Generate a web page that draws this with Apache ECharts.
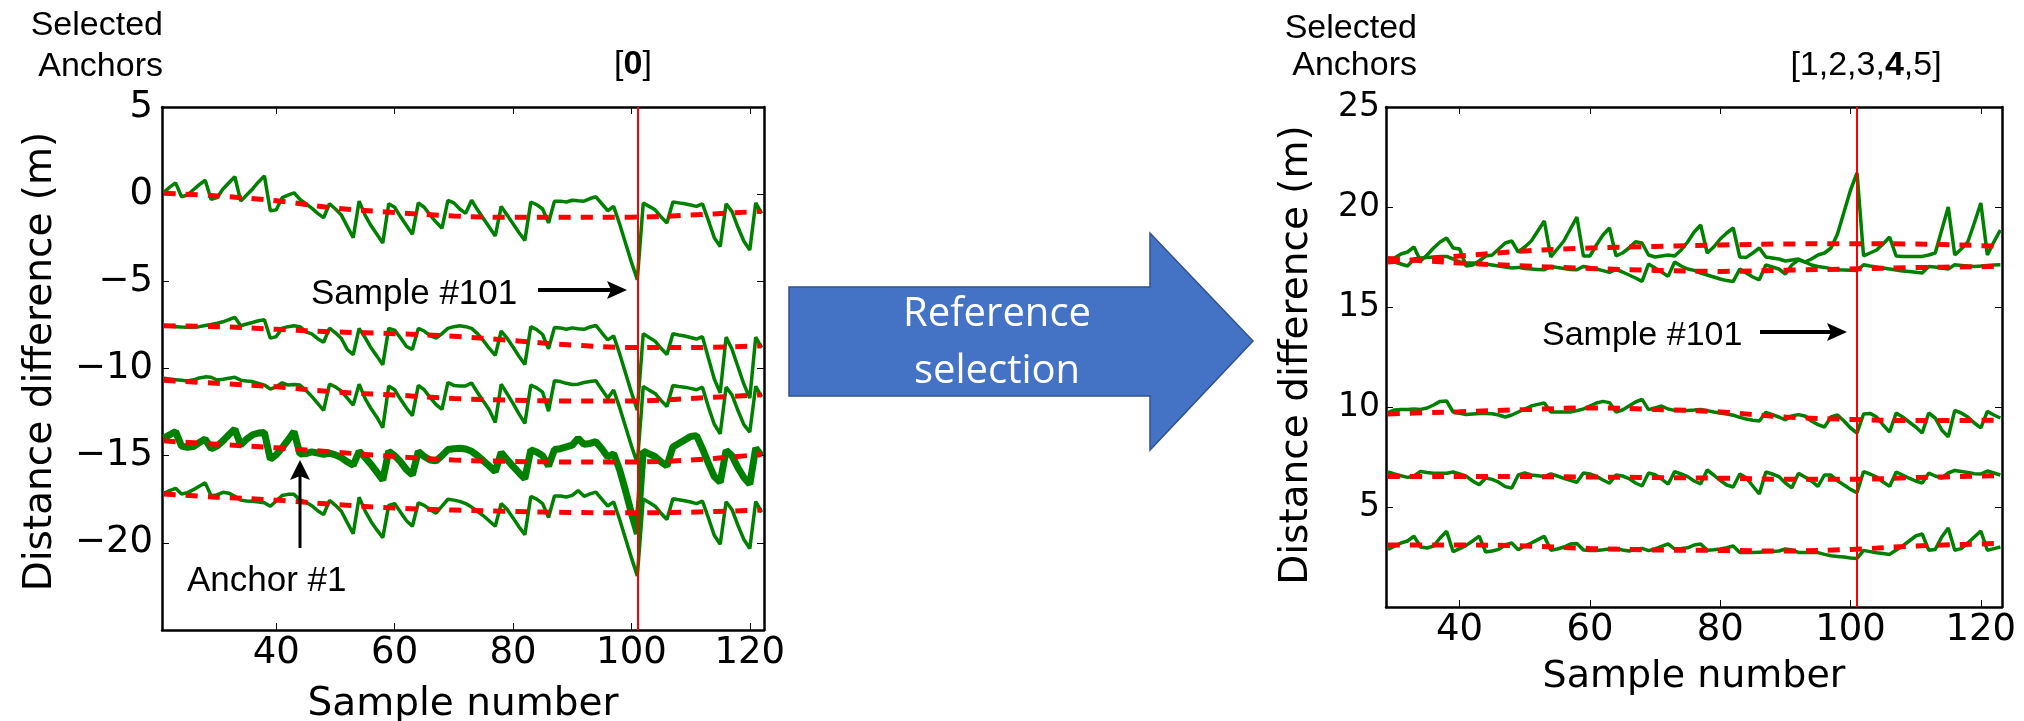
<!DOCTYPE html>
<html>
<head>
<meta charset="utf-8">
<script src="https://cdn.jsdelivr.net/npm/echarts@6/dist/echarts.min.js"></script>
<style>
html,body{margin:0;padding:0;background:#ffffff;}
#c{width:2024px;height:721px;}
</style>
</head>
<body>
<div id="c"></div>
<script>
// ---------------- data: left panel (selected anchors [0]) ----------------
const leftStart = 21; // first sample number of the left panel
const leftL1 = [0.1,0.4,0.65,-0.15,-0.05,0.25,0.55,0.8,-0.3,-0.2,
  0.3,0.65,1.0,-0.4,-0.05,0.3,0.7,1.05,-0.95,-0.9,
  -0.2,-0.05,0.08,-0.3,-0.55,-0.8,-1.1,-1.35,-0.55,-0.85,
  -1.2,-1.85,-2.5,-0.4,-1.2,-1.8,-2.3,-2.8,-0.55,-0.75,
  -1.3,-1.8,-2.3,-0.5,-0.75,-1.2,-1.6,-1.95,-0.35,-0.5,
  -0.85,-1.1,-0.35,-0.9,-1.4,-1.9,-2.4,-0.7,-1.2,-1.7,
  -2.2,-2.65,-0.45,-0.6,-0.85,-1.65,-0.4,-0.4,-0.45,-0.35,
  -0.38,-0.4,-0.25,-0.15,-0.55,-0.95,-0.7,-1.7,-2.8,-3.9,
  -4.9,-0.5,-0.7,-0.9,-1.3,-1.65,-0.45,-0.5,-0.55,-0.62,
  -0.7,-0.55,-1.5,-2.5,-3.0,-0.55,-1.0,-1.9,-2.7,-3.2,-0.5,-1.1];
const leftL2 = [-7.55,-7.58,-7.6,-7.62,-7.63,-7.62,-7.6,-7.53,-7.47,-7.4,
  -7.32,-7.2,-7.06,-7.55,-7.45,-7.36,-7.26,-7.2,-8.26,-8.17,
  -7.69,-7.6,-7.55,-7.6,-7.9,-8.01,-8.29,-8.5,-7.68,-7.95,
  -8.28,-8.92,-9.2,-7.7,-8.22,-8.81,-9.29,-9.78,-7.7,-7.8,
  -8.25,-8.74,-8.9,-7.7,-7.85,-8.12,-8.25,-8.0,-7.7,-7.6,
  -7.55,-7.6,-7.7,-8.0,-8.4,-8.85,-9.25,-7.85,-8.26,-8.77,
  -9.3,-9.77,-7.6,-7.77,-8.05,-8.87,-7.65,-7.67,-7.75,-7.67,
  -7.72,-7.75,-7.62,-7.53,-7.95,-8.36,-8.13,-9.14,-10.26,-11.37,
  -12.39,-8.0,-8.22,-8.43,-8.84,-9.2,-8.01,-8.08,-8.14,-8.22,
  -8.31,-8.17,-9.4,-10.6,-11.4,-8.2,-8.9,-9.9,-10.9,-11.7,-8.2,-8.8];
const leftL3 = [-10.56,-10.6,-10.64,-10.68,-10.72,-10.65,-10.54,-10.48,-10.5,-10.66,
  -10.62,-10.56,-10.5,-10.67,-10.72,-10.75,-10.85,-10.95,-11.18,-11.05,
  -10.82,-10.95,-10.92,-10.95,-11.25,-11.6,-12.0,-12.4,-10.9,-11.05,
  -11.3,-11.7,-12.1,-10.9,-11.71,-12.3,-12.79,-13.4,-11.0,-11.22,
  -11.77,-12.27,-12.7,-10.97,-11.22,-11.67,-12.07,-12.35,-10.8,-10.97,
  -11.0,-11.0,-10.83,-11.38,-11.88,-12.38,-13.1,-10.9,-11.45,-12.0,
  -12.6,-13.15,-10.95,-11.11,-11.36,-12.45,-10.7,-10.75,-10.85,-10.92,
  -10.9,-10.8,-10.75,-10.7,-11.2,-11.7,-11.23,-12.23,-13.33,-14.43,
  -15.44,-11.03,-11.24,-11.43,-11.83,-12.18,-10.97,-11.03,-11.07,-11.14,
  -11.22,-11.07,-12.2,-13.2,-13.74,-11.07,-11.52,-12.41,-13.22,-13.65,-11.02,-11.62];
const leftL4 = [-14.0,-13.8,-13.62,-14.45,-14.52,-14.48,-14.25,-14.05,-14.6,-14.45,
  -14.15,-13.8,-13.48,-14.39,-14.05,-13.8,-13.7,-13.67,-15.2,-14.95,
  -14.55,-14.1,-13.62,-14.9,-14.88,-14.78,-14.85,-14.92,-14.86,-14.95,
  -15.11,-15.35,-15.55,-14.75,-15.1,-15.5,-15.95,-16.4,-14.75,-15.0,
  -15.35,-15.8,-16.1,-14.75,-15.05,-15.25,-15.3,-15.0,-14.65,-14.6,
  -14.58,-14.62,-14.75,-15.0,-15.3,-15.6,-15.92,-14.81,-15.23,-15.61,
  -15.98,-16.32,-14.67,-14.79,-15.0,-15.59,-14.65,-14.6,-14.5,-14.4,
  -14.0,-14.35,-14.3,-14.2,-14.6,-15.07,-14.89,-15.8,-17.0,-18.3,
  -19.48,-14.74,-14.9,-15.05,-15.35,-15.59,-14.5,-14.3,-14.1,-13.9,
  -13.85,-14.6,-15.43,-16.2,-16.53,-14.7,-15.01,-15.69,-16.25,-16.64,-14.57,-15.01];
const leftL5 = [-17.16,-17.0,-16.87,-17.2,-17.12,-16.95,-16.75,-16.56,-17.3,-17.25,
  -17.1,-17.15,-17.33,-17.55,-17.6,-17.62,-17.66,-17.7,-17.9,-17.6,
  -17.28,-17.22,-17.22,-17.54,-17.66,-17.87,-18.16,-18.38,-17.57,-17.85,
  -18.19,-18.84,-19.48,-17.38,-18.17,-18.77,-19.26,-19.7,-17.85,-17.75,
  -18.24,-18.73,-19.05,-17.7,-17.85,-18.1,-18.3,-17.9,-17.5,-17.55,
  -17.62,-17.75,-17.95,-18.2,-18.45,-18.75,-19.05,-17.75,-18.07,-18.57,
  -19.08,-19.53,-17.34,-17.49,-17.75,-18.55,-17.31,-17.31,-17.37,-17.28,
  -17.0,-17.33,-17.19,-17.09,-17.49,-17.89,-17.65,-18.65,-19.75,-20.85,
  -21.9,-17.48,-17.69,-17.9,-18.3,-18.66,-17.47,-17.53,-17.59,-17.66,
  -17.75,-17.61,-18.56,-19.57,-20.08,-17.64,-18.1,-19.0,-19.81,-20.32,-17.63,-18.24];
// smooth (dashed red) estimates, left panel
const leftRedX  = [21,30,40,50,60,70,80,90,100,110,122];
const leftRed1 = [0.05,-0.1,-0.38,-0.8,-1.05,-1.25,-1.33,-1.33,-1.32,-1.2,-0.98];
const leftRed2 = [-7.55,-7.6,-7.75,-7.9,-8.0,-8.15,-8.4,-8.65,-8.8,-8.8,-8.7];
const leftRed3 = [-10.68,-10.85,-11.05,-11.35,-11.52,-11.72,-11.82,-11.86,-11.86,-11.72,-11.5];
const leftRed4 = [-14.15,-14.35,-14.55,-14.8,-15.05,-15.25,-15.33,-15.36,-15.36,-15.25,-14.92];
const leftRed5 = [-17.2,-17.38,-17.55,-17.8,-18.0,-18.12,-18.2,-18.26,-18.28,-18.24,-18.12];

// ---------------- data: right panel (selected anchors [1,2,3,4,5]) ----------------
const rightStart = 29;
const rightR1 = [17.39,17.45,17.65,17.75,18.0,17.3,17.6,17.95,18.25,18.45,
  17.95,17.9,17.05,17.1,17.3,17.55,17.6,17.9,18.2,18.3,
  17.75,18.0,18.3,18.8,19.3,17.5,17.9,18.3,18.9,19.5,
  17.55,17.55,18.1,18.6,18.95,17.56,17.7,17.95,18.26,18.2,
  17.6,17.5,17.55,17.6,17.55,17.85,18.25,18.75,19.1,17.7,
  18.0,18.4,18.7,18.95,17.5,17.48,17.7,17.95,17.5,17.45,
  17.4,17.3,17.35,17.4,17.25,17.4,17.6,17.7,17.95,18.65,
  19.75,20.85,21.7,17.56,17.7,17.85,18.15,18.5,17.55,17.53,
  17.53,17.53,17.53,17.6,17.7,18.85,20.0,17.6,17.9,18.25,
  19.2,20.2,17.6,18.25,18.85];
const rightR2 = [17.42,17.25,17.15,17.05,17.4,17.45,17.48,17.5,17.52,17.53,
  17.4,17.25,17.2,17.2,17.2,17.15,17.1,17.05,17.0,16.95,
  16.98,16.92,16.9,16.88,16.86,17.03,16.98,16.93,16.88,16.86,
  17.03,16.98,16.9,16.82,16.73,16.88,16.75,16.6,16.45,16.28,
  17.15,16.95,16.75,16.53,17.25,17.05,16.9,16.83,16.7,16.6,
  16.5,16.4,16.32,16.28,16.9,16.7,16.5,16.36,17.1,17.0,
  16.9,16.65,17.1,17.36,17.25,17.1,17.03,16.98,16.92,16.86,
  16.85,16.84,16.83,17.11,17.05,17.0,16.95,16.9,16.85,16.8,
  16.78,16.74,16.7,17.03,17.0,16.95,16.9,17.11,17.08,17.05,
  17.03,17.05,17.08,17.1,17.11];
const rightR3 = [9.72,9.85,9.88,9.87,9.9,9.88,9.95,10.1,10.28,10.3,
  9.75,9.68,9.62,9.65,9.67,9.68,9.66,9.6,9.5,9.6,
  9.75,9.9,10.05,10.13,10.2,9.75,9.75,9.75,9.75,9.82,
  9.9,10.05,10.2,10.28,10.22,9.75,9.85,10.05,10.25,10.38,
  9.87,9.95,10.05,9.9,9.83,9.83,9.83,9.85,9.88,9.82,
  9.75,9.7,9.65,9.59,9.48,9.4,9.34,9.3,9.73,9.62,
  9.5,9.36,9.55,9.62,9.55,9.3,9.12,9.0,9.5,9.6,
  9.3,8.95,8.7,9.65,9.68,9.5,9.1,8.75,9.7,9.5,
  9.25,9.0,8.7,9.7,9.45,8.85,8.51,9.83,9.7,9.5,
  9.2,8.96,9.78,9.6,9.45];
const rightR4 = [6.75,6.65,6.56,6.48,6.55,6.78,6.73,6.69,6.69,6.69,
  6.75,6.65,6.54,6.3,6.11,6.45,6.38,6.24,6.02,5.95,
  6.6,6.7,6.6,6.56,6.52,6.65,6.55,6.43,6.33,6.24,
  6.7,6.65,6.53,6.35,6.19,6.6,6.55,6.42,6.2,6.05,
  6.7,6.62,6.4,6.14,6.77,6.65,6.52,6.3,6.16,6.85,
  6.6,6.33,6.1,6.0,6.65,6.46,6.05,5.65,6.75,6.65,
  6.52,6.2,5.96,6.68,6.5,6.3,6.03,6.6,6.6,6.31,
  6.1,5.88,5.72,6.77,6.65,6.5,6.25,6.03,6.75,6.6,
  6.44,6.3,6.2,6.69,6.55,6.45,6.7,6.83,6.78,6.73,
  6.66,6.65,6.8,6.7,6.6];
const rightR5 = [2.88,3.04,3.2,3.3,3.54,3.0,2.95,3.05,3.45,3.79,
  2.76,2.92,3.08,3.3,3.54,2.75,2.8,2.88,3.1,3.2,
  2.86,3.05,3.2,3.37,3.54,2.84,2.9,3.0,3.15,3.18,
  2.85,2.83,2.83,2.86,2.9,2.93,2.85,2.8,2.9,2.93,
  2.82,2.9,3.03,3.16,2.9,2.92,2.96,3.1,3.15,2.84,
  2.86,2.9,2.96,3.05,2.72,2.72,2.72,2.74,2.76,2.78,
  2.8,2.9,2.85,2.73,2.72,2.72,2.72,2.63,2.56,2.53,
  2.5,2.45,2.43,2.83,2.77,2.71,2.67,2.63,2.85,3.05,
  3.3,3.55,3.65,2.84,2.88,3.5,3.95,2.84,2.92,3.2,
  3.5,3.8,2.84,2.92,3.0];
const rightRedX = [29,35,40,50,60,70,80,90,100,110,123];
const rightRed1 = [17.25,17.4,17.55,17.8,17.95,18.03,18.1,18.15,18.16,18.15,18.03];
const rightRed2 = [17.42,17.3,17.2,17.05,16.93,16.83,16.78,16.84,16.9,16.97,17.03];
const rightRed3 = [9.65,9.72,9.76,9.87,9.95,9.88,9.75,9.5,9.38,9.32,9.34];
const rightRed4 = [6.52,6.52,6.52,6.52,6.5,6.47,6.44,6.39,6.39,6.47,6.57];
const rightRed5 = [3.1,3.1,3.1,3.05,2.93,2.85,2.83,2.8,2.88,3.05,3.18];

// marked sample and tick labels
const markerSample = 101;
const xTickValues = [40,60,80,100,120];
const leftYRange = [-25, 5];
const rightYRange = [0, 25];
const leftXRange = [20.7, 122.4];
const rightXRange = [28.7, 123.25];

// ---------------- helpers ----------------
const TICK_FONT = 'DejaVu Sans';
const ANN_FONT = 'Liberation Sans';
const GREEN = '#008000';
const RED = '#ff0000';

function seq(start, arr) { return arr.map((v, i) => [start + i, v]); }
function zipXY(xs, ys) { return xs.map((x, i) => [x, ys[i]]); }
function minusFmt(v) { return String(v).replace('-', '\u2212'); }

function xAx(grid, pos, range, showLabel, name, nameSize, nameGap) {
  return {
    type: 'value', gridIndex: grid, position: pos, min: range[0], max: range[1],
    axisLine: { show: true, onZero: false, lineStyle: { color: '#000', width: 2.5 } },
    axisTick: { show: true, inside: true, length: 7, customValues: xTickValues, lineStyle: { color: '#000', width: 1 } },
    axisLabel: { show: showLabel, customValues: xTickValues, color: '#000', fontFamily: TICK_FONT, fontSize: 37, margin: 5 },
    splitLine: { show: false },
    name: name || '', nameLocation: 'middle', nameGap: nameGap || 0, nameMoveOverlap: false,
    nameTextStyle: { color: '#000', fontFamily: TICK_FONT, fontSize: nameSize || 38 }
  };
}
function yAx(grid, pos, range, showLabel, labelSize, margin, name, nameGap, namePad) {
  return {
    type: 'value', gridIndex: grid, position: pos, min: range[0], max: range[1], interval: 5,
    axisLine: { show: true, onZero: false, lineStyle: { color: '#000', width: 2.5 } },
    axisTick: { show: true, inside: true, length: 7, lineStyle: { color: '#000', width: 1 } },
    axisLabel: { show: showLabel, showMinLabel: false, color: '#000', fontFamily: TICK_FONT, fontSize: labelSize,
      margin: margin, formatter: minusFmt },
    splitLine: { show: false },
    name: name || '', nameLocation: 'middle', nameGap: nameGap || 0, nameRotate: 90, nameMoveOverlap: false,
    nameTextStyle: { color: '#000', fontFamily: TICK_FONT, fontSize: 39, padding: namePad || 0 }
  };
}
function green(xi, yi, data, width) {
  return { type: 'line', xAxisIndex: xi, yAxisIndex: yi, data: data, showSymbol: false, symbol: 'none',
    lineStyle: { color: GREEN, width: width || 3.5 }, z: 2, silent: true };
}
function redDash(xi, yi, data) {
  return { type: 'line', xAxisIndex: xi, yAxisIndex: yi, data: data, showSymbol: false, symbol: 'none', smooth: 0.4,
    lineStyle: { color: RED, width: 5, type: [12, 10] }, z: 3, silent: true };
}
function markSeries(xi, yi) {
  return { type: 'line', xAxisIndex: xi, yAxisIndex: yi, data: [], z: 4, silent: true,
    markLine: { symbol: 'none', silent: true, label: { show: false }, animation: false,
      lineStyle: { color: RED, width: 2, type: 'solid' }, data: [{ xAxis: markerSample }] } };
}
function arrow(x1, y1, x2, y2, w, headLen, headHalf) {
  const dx = x2 - x1, dy = y2 - y1, L = Math.sqrt(dx * dx + dy * dy);
  const ux = dx / L, uy = dy / L, px = -uy, py = ux;
  const bx = x2 - ux * headLen, by = y2 - uy * headLen;
  const nx = x2 - ux * headLen * 0.8, ny = y2 - uy * headLen * 0.8;
  return [
    { type: 'line', shape: { x1: x1, y1: y1, x2: nx, y2: ny }, style: { stroke: '#000', lineWidth: w }, z: 10 },
    { type: 'polygon', shape: { points: [[x2, y2], [bx + px * headHalf, by + py * headHalf], [nx, ny], [bx - px * headHalf, by - py * headHalf]] },
      style: { fill: '#000' }, z: 10 }
  ];
}
function fontStr(size, family, weight) {
  return (weight ? weight + ' ' : '') + size + 'px "' + family + '"';
}
function txt(x, y, text, size, align, extra) {
  return { type: 'text', x: x, y: y, z: 10,
    style: Object.assign({ text: text, fill: '#000', font: fontStr(size, ANN_FONT),
      fontFamily: ANN_FONT, fontSize: size,
      align: align, textAlign: align, verticalAlign: 'middle', textVerticalAlign: 'middle' }, extra || {}) };
}
function richStyle(size) {
  return {
    n: { font: fontStr(size, ANN_FONT), fontFamily: ANN_FONT, fontSize: size, fill: '#000' },
    b: { font: fontStr(size, ANN_FONT, 'bold'), fontFamily: ANN_FONT, fontSize: size, fontWeight: 'bold', fill: '#000' }
  };
}

const graphics = [
  { type: 'polygon', z: 5,
    shape: { points: [[789, 287], [1150, 287], [1150, 233], [1253, 341], [1150, 450], [1150, 396], [789, 396]] },
    style: { fill: '#4472C4', stroke: '#2F528F', lineWidth: 1.5 } },
  txt(997, 315, 'Reference', 40, 'center', { fill: '#ffffff', font: fontStr(40, 'Open Sans'), fontFamily: 'Open Sans' }),
  txt(997, 372, 'selection', 40, 'center', { fill: '#ffffff', font: fontStr(40, 'Open Sans'), fontFamily: 'Open Sans' }),
  txt(163, 26, 'Selected', 34, 'right'),
  txt(163, 67, 'Anchors', 34, 'right'),
  txt(633, 65, '{n|[}{b|0}{n|]}', 34, 'center', { rich: richStyle(34) }),
  txt(1417, 29, 'Selected', 34, 'right'),
  txt(1417, 66, 'Anchors', 34, 'right'),
  txt(1866, 66, '{n|[1,2,3,}{b|4}{n|,5]}', 34, 'center', { rich: richStyle(34) }),
  txt(311, 294, 'Sample #101', 35, 'left'),
  txt(187, 581, 'Anchor #1', 35, 'left'),
  txt(1542, 336, 'Sample #101', 34, 'left')
].concat(arrow(538, 290, 627, 290, 4, 20, 9))
 .concat(arrow(300, 548, 300, 460, 3, 20, 10))
 .concat(arrow(1760, 332, 1847, 332, 4, 20, 9));

const option = {
  animation: false,
  backgroundColor: '#ffffff',
  grid: [
    { left: 162, top: 107, width: 602, height: 523, containLabel: false, outerBoundsMode: 'none' },
    { left: 1386, top: 107, width: 616, height: 500, containLabel: false, outerBoundsMode: 'none' }
  ],
  xAxis: [
    xAx(0, 'bottom', leftXRange, true, 'Sample number', 39, 55),
    xAx(0, 'top', leftXRange, false),
    xAx(1, 'bottom', rightXRange, true, 'Sample number', 38, 51),
    xAx(1, 'top', rightXRange, false)
  ],
  yAxis: [
    yAx(0, 'left', leftYRange, true, 37, 9, 'Distance difference (m)', 102, [0, 0, 0, 14]),
    yAx(0, 'right', leftYRange, false, 37, 9),
    yAx(1, 'left', rightYRange, true, 33, 6, 'Distance difference (m)', 70, [0, 0, 0, 4]),
    yAx(1, 'right', rightYRange, false, 33, 6)
  ],
  series: [
    green(0, 0, seq(leftStart, leftL1)),
    green(0, 0, seq(leftStart, leftL2)),
    green(0, 0, seq(leftStart, leftL3)),
    green(0, 0, seq(leftStart, leftL4), 7),
    green(0, 0, seq(leftStart, leftL5)),
    redDash(0, 0, zipXY(leftRedX, leftRed1)),
    redDash(0, 0, zipXY(leftRedX, leftRed2)),
    redDash(0, 0, zipXY(leftRedX, leftRed3)),
    redDash(0, 0, zipXY(leftRedX, leftRed4)),
    redDash(0, 0, zipXY(leftRedX, leftRed5)),
    markSeries(0, 0),
    green(2, 2, seq(rightStart, rightR1)),
    green(2, 2, seq(rightStart, rightR2)),
    green(2, 2, seq(rightStart, rightR3)),
    green(2, 2, seq(rightStart, rightR4)),
    green(2, 2, seq(rightStart, rightR5)),
    redDash(2, 2, zipXY(rightRedX, rightRed1)),
    redDash(2, 2, zipXY(rightRedX, rightRed2)),
    redDash(2, 2, zipXY(rightRedX, rightRed3)),
    redDash(2, 2, zipXY(rightRedX, rightRed4)),
    redDash(2, 2, zipXY(rightRedX, rightRed5)),
    markSeries(2, 2)
  ],
  graphic: { elements: graphics }
};

const chart = echarts.init(document.getElementById('c'), null, { renderer: 'canvas', width: 2024, height: 721 });
chart.setOption(option);
</script>
</body>
</html>
